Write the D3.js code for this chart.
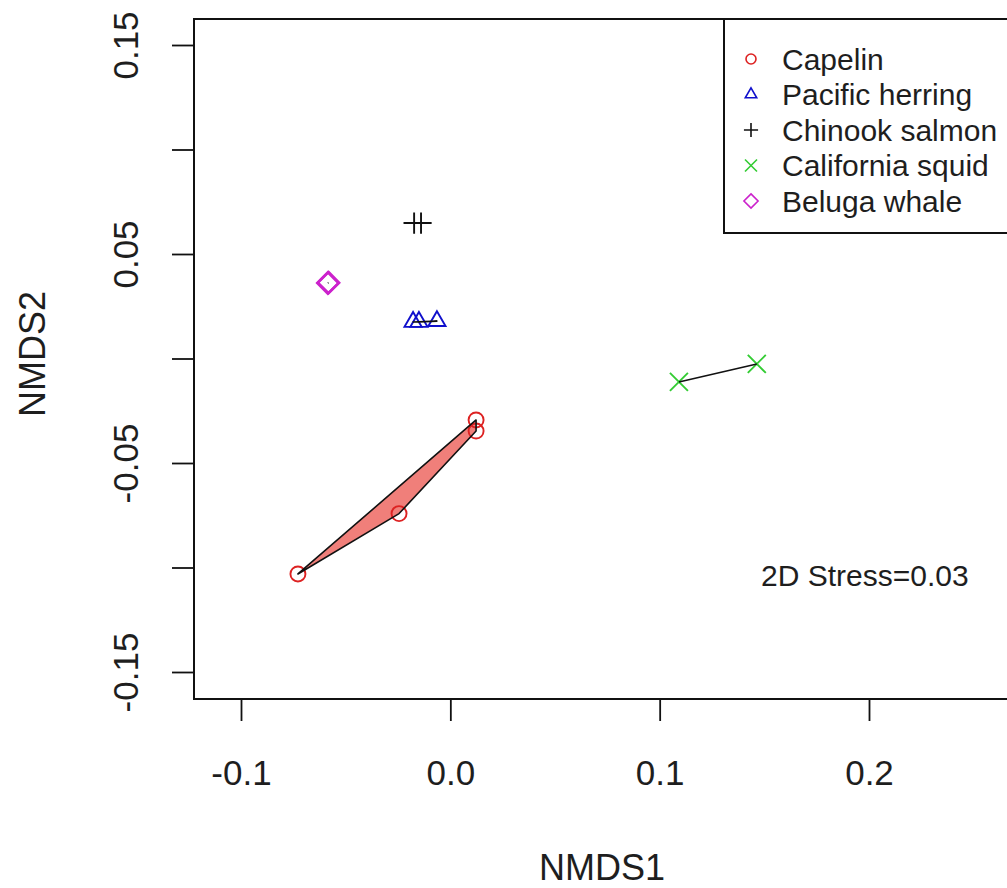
<!DOCTYPE html>
<html>
<head>
<meta charset="utf-8">
<script src="https://cdn.jsdelivr.net/npm/d3@7"></script>
<style>
  html, body { margin: 0; padding: 0; background: #fff; }
  svg { display: block; }
  text { font-family: "Liberation Sans", Arial, sans-serif; fill: #1e1e1e; }
</style>
</head>
<body>
<svg id="chart" width="1007" height="888"></svg>
<script>
// NMDS ordination scores per species (NMDS1, NMDS2)
const species = ["Capelin", "Pacific herring", "Chinook salmon", "California squid", "Beluga whale"];
const capelinX = [0.0123, 0.0123, -0.0245, -0.0728];
const capelinY = [-0.0294, -0.0347, -0.0742, -0.1031];
const herringX = [-0.0178, -0.0150, -0.0064];
const herringY = [0.0175, 0.0175, 0.0179];
const chinookX = [-0.0173, -0.0140];
const chinookY = [0.0648, 0.0648];
const squidX = [0.1092, 0.1464];
const squidY = [-0.0112, -0.0026];
const belugaX = [-0.0585, -0.0582];
const belugaY = [0.0361, 0.0363];
const stressLabel = "2D Stress=0.03";

const xTicks = [-0.1, 0.0, 0.1, 0.2];
const yTicks = [-0.15, -0.10, -0.05, 0.00, 0.05, 0.10, 0.15];
const yTickLabels = ["-0.15", "", "-0.05", "", "0.05", "", "0.15"];
const xTickLabels = ["-0.1", "0.0", "0.1", "0.2"];

const groups = [
  { name: species[0], xs: capelinX, ys: capelinY, shape: "circle",   color: "#dd2222", fill: "#f07f7a" },
  { name: species[1], xs: herringX, ys: herringY, shape: "triangle", color: "#1010cc", fill: null },
  { name: species[2], xs: chinookX, ys: chinookY, shape: "plus",     color: "#111111", fill: null },
  { name: species[3], xs: squidX,   ys: squidY,   shape: "cross",    color: "#33cc33", fill: null },
  { name: species[4], xs: belugaX,  ys: belugaY,  shape: "diamond",  color: "#cc22cc", fill: null }
];

const svg = d3.select("#chart");
const x = d3.scaleLinear().domain([-0.1, 0.2]).range([241, 869]);
const y = d3.scaleLinear().domain([-0.15, 0.15]).range([672, 45]);

const box = { left: 194, top: 19, right: 1030, bottom: 699 };

// symbol path generator in the style of R's pch 1-5
function symbolPath(shape, r) {
  const p = d3.path();
  if (shape === "circle") {
    p.moveTo(r, 0); p.arc(0, 0, r, 0, 2 * Math.PI);
  } else if (shape === "triangle") {
    const t0 = 1.555 * r * 0.85, xc = t0 * Math.sqrt(3) / 2, yc = t0 / 2;
    p.moveTo(0, -t0); p.lineTo(xc, yc); p.lineTo(-xc, yc); p.closePath();
  } else if (shape === "plus") {
    const a = Math.SQRT2 * r;
    p.moveTo(-a, 0); p.lineTo(a, 0); p.moveTo(0, -a); p.lineTo(0, a);
  } else if (shape === "cross") {
    const a = r * 1.2;
    p.moveTo(-a, -a); p.lineTo(a, a); p.moveTo(-a, a); p.lineTo(a, -a);
  } else if (shape === "diamond") {
    const a = Math.SQRT2 * r;
    p.moveTo(0, -a); p.lineTo(a, 0); p.lineTo(0, a); p.lineTo(-a, 0); p.closePath();
  }
  return p.toString();
}

const plot = svg.append("g");

// hull outlines for each group
function hullOf(g) {
  const pts = g.xs.map((v, i) => [x(v), y(g.ys[i])]);
  if (pts.length >= 3) return d3.polygonHull(pts);
  return pts;
}
const hulls = groups.map(g => ({ g, pts: hullOf(g) }));
const lineGen = d3.line();

// filled hulls underneath
plot.selectAll("path.hullfill")
  .data(hulls.filter(h => h.g.fill))
  .join("path")
  .attr("class", "hullfill")
  .attr("d", h => lineGen(h.pts) + "Z")
  .attr("fill", h => h.g.fill)
  .attr("stroke", "none");

// points
groups.forEach(g => {
  plot.append("g").selectAll("path")
    .data(g.xs.map((v, i) => [v, g.ys[i]]))
    .join("path")
    .attr("transform", d => `translate(${x(d[0])},${y(d[1])})`)
    .attr("d", symbolPath(g.shape, 7.5))
    .attr("fill", "none")
    .attr("stroke", g.color)
    .attr("stroke-width", g.shape === "diamond" ? 2.6 : 1.9);
});

// hull outlines on top
plot.selectAll("path.hullline")
  .data(hulls)
  .join("path")
  .attr("class", "hullline")
  .attr("d", h => lineGen(h.pts) + (h.pts.length >= 3 ? "Z" : ""))
  .attr("fill", "none")
  .attr("stroke", "#111")
  .attr("stroke-width", 1.6)
  .attr("stroke-linejoin", "round");

// plot frame
svg.append("rect")
  .attr("x", box.left).attr("y", box.top)
  .attr("width", box.right - box.left).attr("height", box.bottom - box.top)
  .attr("fill", "none").attr("stroke", "#111").attr("stroke-width", 2);

// x axis
const xAxis = svg.append("g")
  .attr("transform", `translate(0,${box.bottom})`)
  .call(d3.axisBottom(x).tickValues(xTicks).tickSize(22).tickSizeOuter(0)
    .tickFormat((d, i) => xTickLabels[i]));
xAxis.select(".domain").remove();
xAxis.selectAll(".tick line").attr("stroke", "#111").attr("stroke-width", 1.8);
xAxis.selectAll(".tick text")
  .attr("y", 73).attr("dy", null)
  .attr("dominant-baseline", "central")
  .style("font-size", "35px").style("font-family", "'Liberation Sans', Arial, sans-serif")
  .attr("fill", "#1e1e1e");

// y axis (ticks every 0.05, alternate labels)
const yAxis = svg.append("g")
  .attr("transform", `translate(${box.left},0)`)
  .call(d3.axisLeft(y).tickValues(yTicks).tickSize(22).tickSizeOuter(0)
    .tickFormat((d, i) => yTickLabels[i]));
yAxis.select(".domain").remove();
yAxis.selectAll(".tick line").attr("stroke", "#111").attr("stroke-width", 1.8);
yAxis.selectAll(".tick text")
  .attr("x", null).attr("dy", null)
  .attr("text-anchor", "middle")
  .attr("dominant-baseline", "central")
  .attr("transform", `translate(${125 - box.left},0) rotate(-90)`)
  .style("font-size", "35px").style("font-family", "'Liberation Sans', Arial, sans-serif")
  .attr("fill", "#1e1e1e");

// axis titles
svg.append("text")
  .attr("x", 602).attr("y", 867)
  .attr("text-anchor", "middle").attr("dominant-baseline", "central")
  .style("font-size", "36px").text("NMDS1");
svg.append("text")
  .attr("transform", "translate(32,354) rotate(-90)")
  .attr("text-anchor", "middle").attr("dominant-baseline", "central")
  .style("font-size", "36px").text("NMDS2");

// stress annotation
svg.append("text")
  .attr("x", 761).attr("y", 575)
  .attr("dominant-baseline", "central")
  .style("font-size", "30px").text(stressLabel);

// legend
const legend = svg.append("g");
legend.append("rect")
  .attr("x", 724).attr("y", 19).attr("width", 320).attr("height", 214)
  .attr("fill", "#fff").attr("stroke", "#111").attr("stroke-width", 2);
const rows = legend.selectAll("g.row")
  .data(groups)
  .join("g")
  .attr("class", "row")
  .attr("transform", (d, i) => `translate(751,${59 + i * 35.5})`);
rows.append("path")
  .attr("d", d => symbolPath(d.shape, 5))
  .attr("fill", "none")
  .attr("stroke", d => d.color)
  .attr("stroke-width", 1.6);
rows.append("text")
  .attr("x", 31).attr("y", 0)
  .attr("dominant-baseline", "central")
  .style("font-size", "30px")
  .text(d => d.name);
</script>
</body>
</html>
